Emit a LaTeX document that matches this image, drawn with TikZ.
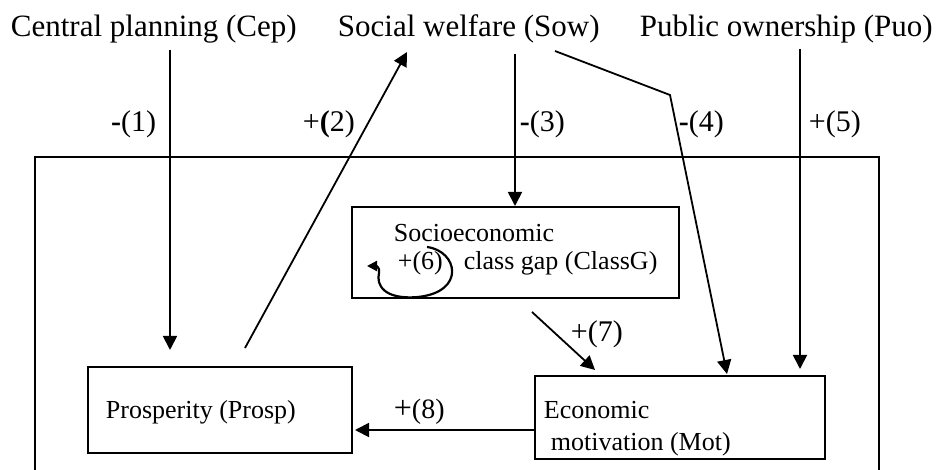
\documentclass[tikz,border=0pt]{standalone}
\usepackage{fontspec}
\setmainfont{Liberation Serif}
\usetikzlibrary{arrows.meta}
\begin{document}
\begin{tikzpicture}[x=1pt,y=-1pt,
  line width=1.8pt,
  title/.style={inner sep=0pt,anchor=base west,font=\fontsize{31}{36}\selectfont},
  lab/.style={inner sep=0pt,anchor=base west,font=\fontsize{30}{36}\selectfont},
  boxtext/.style={inner sep=0pt,anchor=base west,font=\fontsize{26}{31}\selectfont},
  box/.style={draw,rectangle,inner sep=0pt},
  arr/.style={-{Triangle[length=14pt,width=14pt]}},
  looparr/.style={line width=2.2pt,-{Triangle[length=10pt,width=10pt]}}]
\useasboundingbox (0,0) rectangle (943,470);
\clip (0,0) rectangle (943,470);

% outer frame (open towards the bottom)
\draw (35,490) -- (35,157) -- (879,157) -- (879,490);

% exogenous factors
\node[title] (cep) at (10,37) {Central planning (Cep)};
\node[title] (sow) at (337,37) {Social welfare (Sow)};
\node[title] (puo) at (639,37) {Public ownership (Puo)};

% endogenous factors
\node[box,minimum width=264pt,minimum height=86pt] (prosp) at (220,410) {};
\node[boxtext] (prosptxt) at (105,418) {Prosperity (Prosp)};
\node[box,minimum width=290pt,minimum height=83pt] (mot) at (680,417.5) {};
\node[boxtext] (mottxt1) at (543,418) {Economic};
\node[boxtext] (mottxt2) at (550,450) {motivation (Mot)};
\node[box,minimum width=327pt,minimum height=91pt] (cls) at (515.5,252.5) {};
\node[boxtext] (clstxt1) at (393,242) {Socioeconomic};
\node[boxtext] (clstxt2) at (463,270) {class gap (ClassG)};
\node[boxtext] (l6) at (397,270) {+(6)};

% connector end points
\coordinate (a1s) at (170,50);   \coordinate (a1e) at (170,350);
\coordinate (a2s) at (245,348);  \coordinate (a2e) at (407,52);
\coordinate (a3s) at (515,54);   \coordinate (a3e) at (515,206);
\coordinate (a4s) at (555,51);   \coordinate (a4b) at (670,95);  \coordinate (a4e) at (727,374);
\coordinate (a5s) at (800,49);   \coordinate (a5e) at (800,369);
\coordinate (a7s) at (532,312);  \coordinate (a7e) at (595,370);
\coordinate (a8s) at (535,430);  \coordinate (a8e) at (355,430);

\draw[arr] (a1s) -- (a1e);
\draw[arr] (a2s) -- (a2e);
\draw[arr] (a3s) -- (a3e);
\draw[arr] (a4s) -- (a4b) -- (a4e);
\draw[arr] (a5s) -- (a5e);
\draw[arr] (a7s) -- (a7e);
\draw[arr] (a8s) -- (a8e);

% self-reinforcing loop of the class gap
\coordinate (lps) at (427,247);
\coordinate (lpe) at (367,266);
\draw[looparr] (lps) .. controls (458,251) and (466,292) .. (418,297)
  .. controls (384,300) and (376,285) .. (379,273)
  .. controls (380,267) and (376,266) .. (lpe);

% signs of the links
\node[lab,anchor=base east] (l1) at (157,132) {\textbf{-}(1)};
\node[lab] (l2) at (302,132) {+\textbf{(}2)};
\node[lab] (l3) at (519,132) {\textbf{-}(3)};
\node[lab] (l4) at (678,132) {\textbf{-}(4)};
\node[lab] (l5) at (808,132) {+(5)};
\node[lab] (l7) at (570,342) {+(7)};
\node[lab,font=\fontsize{28}{34}\selectfont] (l8) at (393,418) {{\fontsize{32}{34}\selectfont +}(8)};
\end{tikzpicture}
\end{document}
